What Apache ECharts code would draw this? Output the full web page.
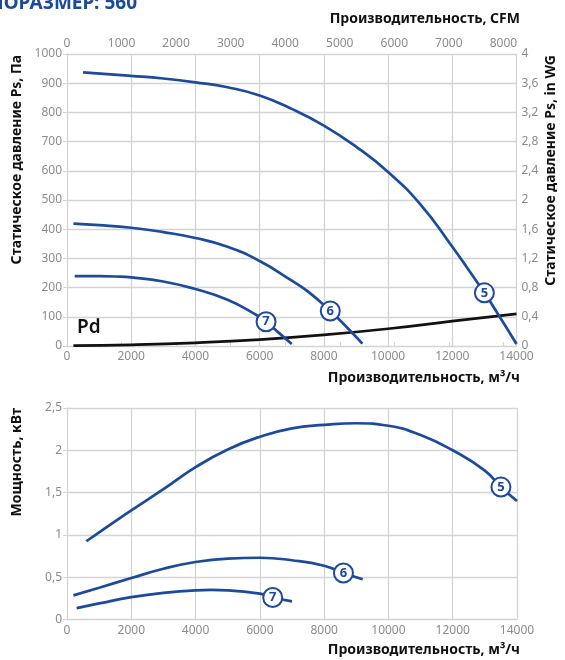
<!DOCTYPE html>
<html>
<head>
<meta charset="utf-8">
<script src="https://cdn.jsdelivr.net/npm/echarts@6/dist/echarts.min.js"></script>
<style>
html,body{margin:0;padding:0;background:#fff;}
#chart{width:565px;height:660px;}
</style>
</head>
<body>
<div id="chart"></div>
<script>
// ---- Data ----
const curveNames = ['5', '6', '7'];
// Static pressure, Pa vs flow, m3/h
const flowP5 = [500, 2000, 3000, 4000, 5000, 6000, 7000, 8000, 9000, 10000, 11000, 12000, 12500, 13000, 13500, 14000];
const pressP5 = [937, 925, 916, 903, 886, 858, 812, 755, 683, 596, 486, 340, 262, 182, 96, 7];
const flowP6 = [200, 1000, 2000, 3000, 4000, 5000, 6000, 7000, 7500, 8200, 8700, 9200];
const pressP6 = [419, 414, 405, 390, 370, 340, 291, 224, 187, 120, 66, 8];
const flowP7 = [240, 1000, 1500, 2000, 3000, 4000, 5000, 5900, 6200, 6600, 7000];
const pressP7 = [239, 239, 238, 235, 221, 195, 158, 106, 83, 45, 7];
const flowPd = [200, 2000, 4000, 6000, 8000, 10000, 12000, 14000];
const pressPd = [1, 4, 11, 22, 38, 59, 85, 110];
const badgeFlowP = [13000, 8200, 6200];
// Power, kW vs flow, m3/h
const flowW5 = [600, 1000, 2000, 3000, 4000, 5000, 6000, 7000, 8000, 9000, 10000, 11000, 12000, 13000, 13500, 14000];
const powerW5 = [0.925, 1.03, 1.29, 1.54, 1.80, 2.01, 2.16, 2.26, 2.30, 2.32, 2.29, 2.18, 2.00, 1.76, 1.565, 1.40];
const flowW6 = [200, 1000, 2000, 3000, 4000, 5000, 6000, 7000, 8000, 8600, 9200];
const powerW6 = [0.285, 0.375, 0.49, 0.60, 0.68, 0.72, 0.73, 0.70, 0.635, 0.55, 0.475];
const flowW7 = [300, 1000, 2000, 3000, 4000, 4500, 5000, 6000, 6400, 7000];
const powerW7 = [0.135, 0.19, 0.265, 0.315, 0.345, 0.35, 0.345, 0.305, 0.26, 0.215];
const badgeFlowW = [13500, 8600, 6400];
// Axis
const flowMax = 14000;
const m3hPerCfm = 1.699;
const pressMax = 1000;
const inwgMax = 4;
const powerMax = 2.5;

// ---- Styles ----
const BLUE = '#1c4a9c';
const GRID = '#d4d4d4';
const LABEL = '#8c8c8c';
const FONT = '"Noto Sans", sans-serif';
const comma = v => String(+(+v).toFixed(1)).replace('.', ',');
const plain = v => String(Math.round(v));

function curveData(xs, ys, badgeX, name) {
  return xs.map((x, i) => {
    if (x === badgeX) {
      return {
        value: [x, ys[i]],
        symbol: 'circle', symbolSize: 19,
        itemStyle: {color: '#fff', borderColor: BLUE, borderWidth: 2},
        label: {show: true, position: 'inside', formatter: name, color: BLUE,
                fontWeight: 'bold', fontSize: 13, fontFamily: FONT}
      };
    }
    return [x, ys[i]];
  });
}
function curve(xs, ys, badgeX, name, xi, yi, color) {
  return {
    type: 'line', xAxisIndex: xi, yAxisIndex: yi,
    data: curveData(xs, ys, badgeX, name),
    smooth: 0.5,
    symbol: 'none', showSymbol: true, showAllSymbol: true,
    lineStyle: {color: color || BLUE, width: 2.7},
    itemStyle: {color: color || BLUE},
    z: name ? 3 : 2,
    silent: true
  };
}
const axisLabel = {color: LABEL, fontSize: 12, fontFamily: FONT};
const axisLine = {show: true, lineStyle: {color: GRID, width: 1}};
const splitLine = {show: true, lineStyle: {color: GRID, width: 1.3}};
const tick = {show: true, length: 4, lineStyle: {color: GRID}};
const titleStyle = {fontSize: 14, fontWeight: 'bold', fontFamily: FONT, fill: '#111'};

const chart = echarts.init(document.getElementById('chart'), null, {renderer: 'canvas'});
chart.setOption({
  animation: false,
  grid: [
    {left: 67, top: 54, width: 449.5, height: 292},
    {left: 67, top: 408, width: 450, height: 211.5}
  ],
  xAxis: [
    {gridIndex: 0, type: 'value', min: 0, max: flowMax, interval: 2000, position: 'bottom',
     axisLine, axisTick: {show: false}, splitLine, axisLabel: {...axisLabel, margin: 5, formatter: plain}},
    {gridIndex: 0, type: 'value', min: 0, max: flowMax / m3hPerCfm, interval: 1000, position: 'top',
     axisLine, axisTick: tick, splitLine: {show: false}, axisLabel: {...axisLabel, margin: 4, formatter: plain}},
    {gridIndex: 1, type: 'value', min: 0, max: flowMax, interval: 2000,
     axisLine, axisTick: {show: false}, splitLine, axisLabel: {...axisLabel, margin: 5, formatter: plain}}
  ],
  yAxis: [
    {gridIndex: 0, type: 'value', min: 0, max: pressMax, interval: 100, position: 'left',
     axisLine, axisTick: tick, splitLine, axisLabel: {...axisLabel, margin: 5, formatter: plain}},
    {gridIndex: 0, type: 'value', min: 0, max: inwgMax, interval: 0.4, position: 'right',
     axisLine, axisTick: tick, splitLine: {show: false},
     axisLabel: {...axisLabel, margin: 5, formatter: comma}},
    {gridIndex: 1, type: 'value', min: 0, max: powerMax, interval: 0.5,
     axisLine, axisTick: tick, splitLine, axisLabel: {...axisLabel, margin: 5, formatter: comma}}
  ],
  series: [
    curve(flowPd, pressPd, null, '', 0, 0, '#111'),
    curve(flowP7, pressP7, badgeFlowP[2], curveNames[2], 0, 0),
    curve(flowP6, pressP6, badgeFlowP[1], curveNames[1], 0, 0),
    curve(flowP5, pressP5, badgeFlowP[0], curveNames[0], 0, 0),
    curve(flowW7, powerW7, badgeFlowW[2], curveNames[2], 2, 2),
    curve(flowW6, powerW6, badgeFlowW[1], curveNames[1], 2, 2),
    curve(flowW5, powerW5, badgeFlowW[0], curveNames[0], 2, 2)
  ],
  graphic: [
    {type: 'text', right: 565 - 137, top: -6,
     style: {text: 'ТИПОРАЗМЕР: 560', fontSize: 19, fontWeight: 'bold', fontFamily: FONT, fill: BLUE}},
    {type: 'text', x: 520, y: 19, style: {...titleStyle, text: 'Производительность, CFM', align: 'right', verticalAlign: 'middle'}},
    {type: 'text', x: 520, y: 378, style: {...titleStyle, text: 'Производительность, м³/ч', align: 'right', verticalAlign: 'middle'}},
    {type: 'text', x: 520, y: 650, style: {...titleStyle, text: 'Производительность, м³/ч', align: 'right', verticalAlign: 'middle'}},
    {type: 'text', x: 17, y: 55, rotation: Math.PI / 2, style: {...titleStyle, text: 'Статическое давление Ps, Па', align: 'right', verticalAlign: 'middle'}},
    {type: 'text', x: 551, y: 55, rotation: Math.PI / 2, style: {...titleStyle, text: 'Статическое давление Ps, in WG', align: 'right', verticalAlign: 'middle'}},
    {type: 'text', x: 17, y: 408, rotation: Math.PI / 2, style: {...titleStyle, text: 'Мощность, кВт', align: 'right', verticalAlign: 'middle'}},
    {type: 'text', x: 77, y: 328, style: {text: 'Pd', fontSize: 19, fontWeight: 600, fontFamily: FONT, fill: '#111', verticalAlign: 'middle'}}
  ]
});
</script>
</body>
</html>
